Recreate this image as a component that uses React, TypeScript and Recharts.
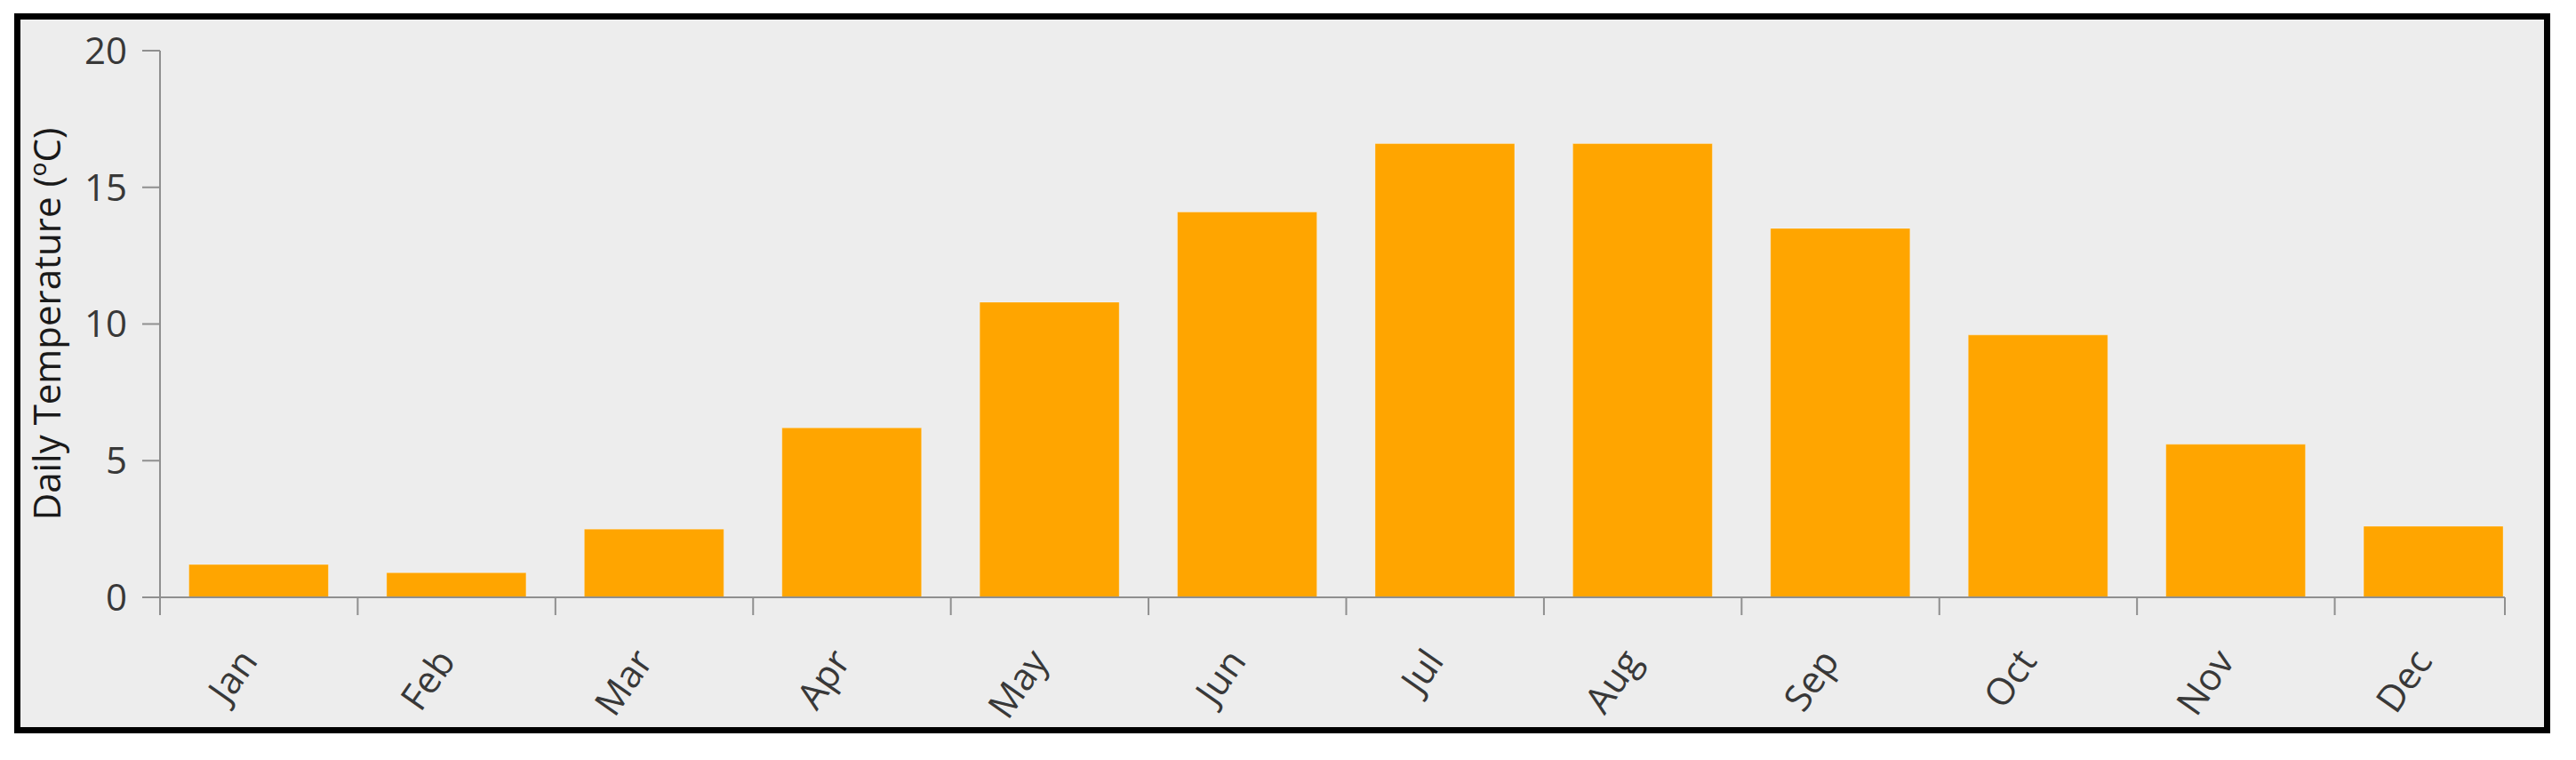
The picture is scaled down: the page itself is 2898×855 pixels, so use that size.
import React from 'react';
import { BarChart, Bar, XAxis, YAxis } from 'recharts';

const months = ['Jan', 'Feb', 'Mar', 'Apr', 'May', 'Jun', 'Jul', 'Aug', 'Sep', 'Oct', 'Nov', 'Dec'];
const dailyTemp = [1.2, 0.9, 2.5, 6.2, 10.8, 14.1, 16.6, 16.6, 13.5, 9.6, 5.6, 2.6];
const yTicks = [0, 5, 10, 15, 20];

const data = months.map((month, i) => ({ month, temp: dailyTemp[i] }));

const FONT = '"Open Sans", "Noto Sans", sans-serif';
const AXIS_COLOR = '#8f8f8f';
const TEXT_COLOR = '#383838';

// ticks sit on the band starts; the first tick also closes the axis line at its far end
function MonthTick(props: any) {
  const { x, y, payload, index, width } = props;
  const half = payload.offset || 0;
  const start = x - half;
  const ly = y + 72;
  return (
    <g>
      <line x1={start} y1={y} x2={start} y2={y + 20} stroke={AXIS_COLOR} strokeWidth={2} />
      {index === 0 && width ? (
        <line x1={start + width} y1={y} x2={start + width} y2={y + 20} stroke={AXIS_COLOR} strokeWidth={2} />
      ) : null}
      <text
        x={x}
        y={ly}
        textAnchor="end"
        transform={`rotate(-55, ${x}, ${ly})`}
        fill={TEXT_COLOR}
        fontSize={42}
        fontFamily={FONT}
      >
        {payload.value}
      </text>
    </g>
  );
}

export default function App() {
  return (
    <div style={{ padding: '7px 0 0 8px' }}>
      <div
        style={{
          width: 2839,
          height: 796,
          border: '7px solid #000',
          background: '#ededed',
        }}
      >
        <BarChart
          width={2839}
          height={796}
          data={data}
          margin={{ top: 35, right: 44, left: 0, bottom: 0 }}
          barCategoryGap="14.6%"
        >
          <XAxis
            dataKey="month"
            height={146}
            interval={0}
            padding={{ left: 0, right: -31 }}
            tickLine={false}
            tickSize={0}
            tickMargin={0}
            tick={<MonthTick />}
            axisLine={{ stroke: AXIS_COLOR, strokeWidth: 2 }}
          />
          <YAxis
            width={157}
            domain={[0, 20]}
            ticks={yTicks}
            tickSize={20}
            tickMargin={17}
            tickLine={{ stroke: AXIS_COLOR, strokeWidth: 2 }}
            axisLine={{ stroke: AXIS_COLOR, strokeWidth: 2 }}
            tick={{ fill: TEXT_COLOR, fontSize: 42, fontFamily: FONT }}
            label={{
              value: 'Daily Temperature (ºC)',
              angle: -90,
              position: 'insideLeft',
              offset: 30,
              style: { textAnchor: 'middle' },
              fill: '#1a1a1a',
              fontSize: 42,
              fontFamily: FONT,
            }}
          />
          <Bar
            dataKey="temp"
            fill="#FFA500"
            stroke="rgba(255,255,255,0.35)"
            strokeWidth={1}
            isAnimationActive={false}
          />
        </BarChart>
      </div>
    </div>
  );
}
